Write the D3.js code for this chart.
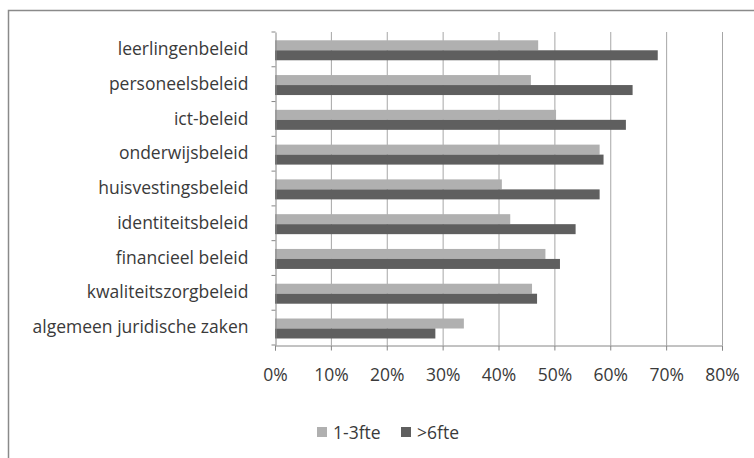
<!DOCTYPE html>
<html>
<head>
<meta charset="utf-8">
<script src="https://cdn.jsdelivr.net/npm/d3@7"></script>
<style>
  html, body { margin: 0; padding: 0; background: #fff; }
  svg { display: block; }
  text { font-family: "Open Sans", sans-serif; fill: #3a3a3a; }
</style>
</head>
<body>
<div id="chart"></div>
<script>
const categories = ["leerlingenbeleid", "personeelsbeleid", "ict-beleid", "onderwijsbeleid", "huisvestingsbeleid", "identiteitsbeleid", "financieel beleid", "kwaliteitszorgbeleid", "algemeen juridische zaken"];
const seriesNames = ["1-3fte", ">6fte"];
const small = [47.1, 45.8, 50.3, 58.1, 40.6, 42.1, 48.4, 46.0, 33.8];
const large = [68.5, 64.0, 62.8, 58.8, 58.1, 53.8, 51.0, 46.9, 28.7];
const tickValues = [0, 10, 20, 30, 40, 50, 60, 70, 80];
const colors = ["#b0b0b0", "#5f5f5f"];
const FS = 17.5;

const W = 754, H = 458;
const svg = d3.select("#chart").append("svg").attr("width", W).attr("height", H);
svg.append("rect").attr("width", W).attr("height", H).attr("fill", "#fff");
svg.append("rect").attr("x", 8.5).attr("y", 10.5).attr("width", 900).attr("height", 600)
  .attr("fill", "none").attr("stroke", "#8a8a8a").attr("stroke-width", 1.5);

const x = d3.scaleLinear().domain([0, 80]).range([275, 722]);
const y = d3.scaleBand().domain(categories).range([32, 345]).paddingInner(0).paddingOuter(0);
const sub = d3.scaleBand().domain(seriesNames).range([0, y.bandwidth()]).paddingInner(0).paddingOuter(0.74).align(0.56);

svg.append("g").selectAll("line").data(tickValues.slice(1)).join("line")
  .attr("x1", d => x(d) + 0.5).attr("x2", d => x(d) + 0.5)
  .attr("y1", 32).attr("y2", 345)
  .attr("stroke", "#a6a6a6").attr("stroke-width", 1);

const data = categories.map((c, i) => ({c, vals: [small[i], large[i]]}));
const g = svg.append("g");
data.forEach(d => {
  d.vals.forEach((v, j) => {
    g.append("rect")
      .attr("x", x(0)).attr("y", y(d.c) + sub(seriesNames[j]))
      .attr("width", x(v) - x(0)).attr("height", sub.bandwidth())
      .attr("fill", colors[j]);
  });
});

const xAxis = d3.axisBottom(x).tickValues(tickValues).tickFormat(d => d + "%").tickSize(5).tickPadding(18);
const xg = svg.append("g").attr("transform", "translate(0,345.5)").call(xAxis);
xg.select(".domain").attr("stroke", "#868686");
xg.selectAll(".tick line").attr("stroke", "#868686");
xg.selectAll(".tick text").attr("font-size", FS).attr("fill", "#3a3a3a").attr("font-family", "'Open Sans', sans-serif");

const yAxis = d3.axisLeft(y).tickSize(0).tickPadding(27);
const yg = svg.append("g").attr("transform", "translate(275.5,0)").call(yAxis);
yg.select(".domain").attr("stroke", "#868686");
yg.selectAll(".tick text").attr("font-size", FS).attr("fill", "#3a3a3a").attr("font-family", "'Open Sans', sans-serif").attr("dy", "0.32em");
const bounds = categories.map(c => y(c)).concat([y.range()[1]]);
yg.append("g").selectAll("line").data(bounds).join("line")
  .attr("x1", -4).attr("x2", 0).attr("y1", d => d).attr("y2", d => d)
  .attr("stroke", "#868686");

const legend = svg.append("g");
const legendX = [317, 401];
seriesNames.forEach((n, i) => {
  legend.append("rect").attr("x", legendX[i]).attr("y", 427).attr("width", 10).attr("height", 10).attr("fill", colors[i]);
  legend.append("text").attr("x", legendX[i] + 16).attr("y", 438.5).attr("font-size", FS).text(n);
});
</script>
</body>
</html>
